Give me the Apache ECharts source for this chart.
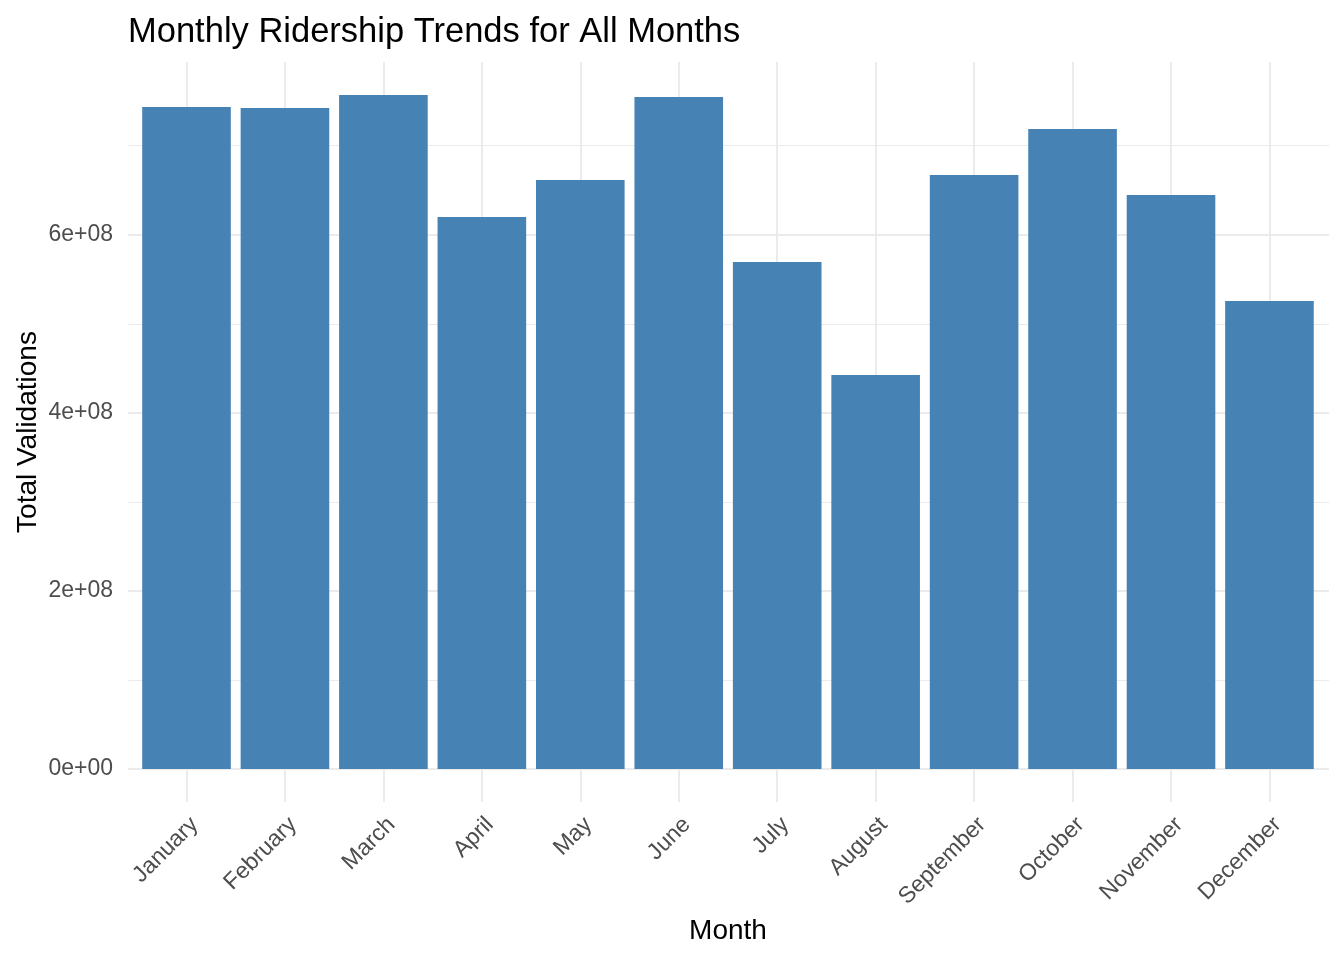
<!DOCTYPE html>
<html>
<head>
<meta charset="utf-8">
<title>Monthly Ridership Trends for All Months</title>
<script src="https://cdn.jsdelivr.net/npm/echarts@6/dist/echarts.min.js"></script>
<style>
    html, body { margin: 0; padding: 0; background: #fff; }
    #chart { width: 1344px; height: 960px; }
</style>
</head>
<body>
<div id="chart"></div>
<script>
// data
var months = ['January', 'February', 'March', 'April', 'May', 'June',
    'July', 'August', 'September', 'October', 'November', 'December'];
var validations = [7.434e8, 7.423e8, 7.569e8, 6.199e8, 6.614e8, 7.546e8,
    5.693e8, 4.424e8, 6.670e8, 7.187e8, 6.446e8, 5.255e8];
var yTicks = [0, 2e8, 4e8, 6e8];
var yTickLabels = ['0e+00', '2e+08', '4e+08', '6e+08'];

(function () {
    var font = 'Liberation Sans, Arial, sans-serif',
        gridColor = '#EBEBEB',
        tickColor = '#4D4D4D';

    // panel geometry (px)
    var panelLeft = 128, panelRight = 1329, panelTop = 62, panelBottom = 802,
        zeroY = 769, pxPer1e8 = 89.05;
    var band = 98.45, firstCenter = 186.5;
    var yMax = (zeroY - panelTop) / pxPer1e8 * 1e8,
        yMin = -(panelBottom - zeroY) / pxPer1e8 * 1e8;

    var chart = echarts.init(document.getElementById('chart'));

    var hidden = { show: false };

    chart.setOption({
        animation: false,
        title: {
            text: 'Monthly Ridership Trends for All Months',
            left: panelLeft,
            top: 15,
            padding: 0,
            textStyle: { fontFamily: font, fontSize: 34.5, fontWeight: 'normal', color: '#000' }
        },
        grid: [
            // 0: major horizontal lines + y labels
            { left: panelLeft, right: 1344 - panelRight, top: zeroY - 6 * pxPer1e8, bottom: 960 - zeroY },
            // 1: minor horizontal lines
            { left: panelLeft, right: 1344 - panelRight, top: zeroY - 7 * pxPer1e8, bottom: 960 - zeroY },
            // 2: vertical lines at category centers
            { left: firstCenter, right: 1344 - (firstCenter + 11 * band), top: panelTop, bottom: 960 - panelBottom },
            // 3: bars
            { left: firstCenter - band / 2, right: 1344 - (firstCenter + 11.5 * band), top: panelTop, bottom: 960 - panelBottom }
        ],
        xAxis: [
            { gridIndex: 0, type: 'value', min: 0, max: 1, show: false },
            { gridIndex: 1, type: 'value', min: 0, max: 1, show: false },
            {
                gridIndex: 2, type: 'value', min: 1, max: 12, interval: 1,
                axisLine: hidden, axisTick: hidden, axisLabel: hidden,
                splitLine: { show: true, lineStyle: { color: gridColor, width: 2 } }
            },
            {
                gridIndex: 3, type: 'category', data: months, boundaryGap: true,
                name: 'Month', nameLocation: 'middle', nameGap: 115,
                nameTextStyle: { fontFamily: font, fontSize: 28, color: '#000' },
                axisLine: hidden, axisTick: hidden, splitLine: hidden,
                axisLabel: {
                    rotate: 45, margin: 11, align: 'right', verticalAlign: 'top',
                    interval: 0, fontFamily: font, fontSize: 23, color: tickColor
                }
            }
        ],
        yAxis: [
            {
                gridIndex: 0, type: 'value', min: 0, max: 6e8, interval: 2e8,
                axisLine: hidden, axisTick: hidden,
                axisLabel: {
                    margin: 15, fontFamily: font, fontSize: 23, color: tickColor,
                    padding: [4, 0, 0, 0],
                    formatter: function (v) {
                        return yTickLabels[yTicks.indexOf(v)];
                    }
                },
                splitLine: { show: true, lineStyle: { color: gridColor, width: 2 } }
            },
            {
                gridIndex: 1, type: 'value', min: 0, max: 7e8, interval: 1e8,
                axisLine: hidden, axisTick: hidden, axisLabel: hidden,
                splitLine: { show: true, lineStyle: { color: gridColor, width: 1 } }
            },
            { gridIndex: 2, type: 'value', min: 0, max: 1, show: false },
            {
                gridIndex: 3, type: 'value', min: yMin, max: yMax,
                name: 'Total Validations', nameLocation: 'middle', nameGap: 95,
                nameTextStyle: { fontFamily: font, fontSize: 28, color: '#000' },
                axisLine: hidden, axisTick: hidden, axisLabel: hidden, splitLine: hidden
            }
        ],
        series: [{
            type: 'bar',
            xAxisIndex: 3,
            yAxisIndex: 3,
            data: validations,
            barWidth: '90%',
            itemStyle: { color: '#4682B4' }
        }]
    });
})();
</script>
</body>
</html>
